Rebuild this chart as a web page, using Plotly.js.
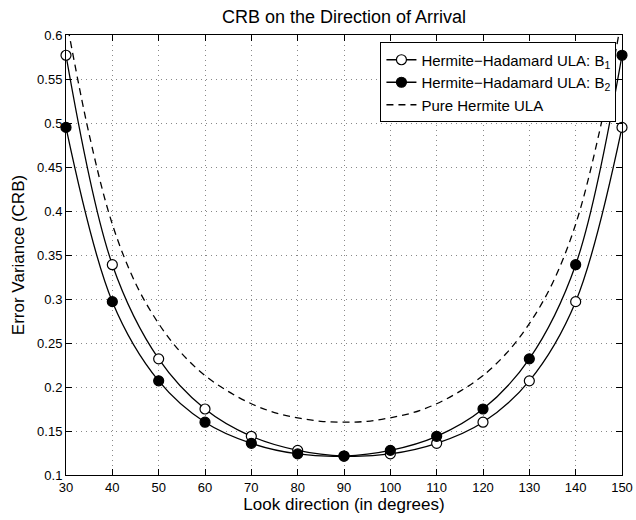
<!DOCTYPE html>
<html>
<head>
<meta charset="utf-8">
<script src="https://cdn.plot.ly/plotly-3.0.1.min.js"></script>
<style>html,body{margin:0;padding:0;background:#fff;}#chart{width:636px;height:520px;}</style>
</head>
<body>
<div id="chart"></div>
<script>
// Look directions (degrees) for the marked series
const lookDir = [30, 40, 50, 60, 70, 80, 90, 100, 110, 120, 130, 140, 150];
// Hermite-Hadamard ULA: B1 (open circles)
const crbB1 = [0.577, 0.339, 0.232, 0.175, 0.144, 0.128, 0.1215, 0.124, 0.136, 0.160, 0.207, 0.297, 0.495];
// Hermite-Hadamard ULA: B2 (filled circles)
const crbB2 = [0.495, 0.297, 0.207, 0.160, 0.136, 0.124, 0.1215, 0.128, 0.144, 0.175, 0.232, 0.339, 0.577];
// Pure Hermite ULA (dashed), read every 5 degrees
const pureDir = [30, 35, 40, 45, 50, 55, 60, 65, 70, 75, 80, 85, 90, 95, 100, 105, 110, 115, 120, 125, 130, 135, 140, 145, 150];
const crbPure = [0.62, 0.487, 0.385, 0.318, 0.272, 0.238, 0.213, 0.195, 0.181, 0.171, 0.165, 0.161, 0.160, 0.161, 0.165, 0.171, 0.181, 0.195, 0.213, 0.238, 0.272, 0.318, 0.385, 0.487, 0.62];

const xTicks = [30, 40, 50, 60, 70, 80, 90, 100, 110, 120, 130, 140, 150];
const yTicks = [0.1, 0.15, 0.2, 0.25, 0.3, 0.35, 0.4, 0.45, 0.5, 0.55, 0.6];

const FONT = 'Liberation Sans, Arial, Helvetica, sans-serif';

const traces = [
  {
    x: lookDir, y: crbB1, name: 'Hermite\u2212Hadamard ULA: B<sub>1</sub>',
    mode: 'lines+markers', type: 'scatter',
    line: {color: '#000', width: 1.3, shape: 'spline', smoothing: 1},
    marker: {symbol: 'circle', size: 10, color: '#fff', line: {color: '#000', width: 1.2}},
    cliponaxis: false
  },
  {
    x: lookDir, y: crbB2, name: 'Hermite\u2212Hadamard ULA: B<sub>2</sub>',
    mode: 'lines+markers', type: 'scatter',
    line: {color: '#000', width: 1.3, shape: 'spline', smoothing: 1},
    marker: {symbol: 'circle', size: 10, color: '#000', line: {color: '#000', width: 1.2}},
    cliponaxis: false
  },
  {
    x: pureDir, y: crbPure, name: 'Pure Hermite ULA',
    mode: 'lines', type: 'scatter',
    line: {color: '#000', width: 1.3, dash: '7px,5px', shape: 'spline', smoothing: 1},
    cliponaxis: true
  }
];

const axisCommon = {
  showline: true, linecolor: '#000', linewidth: 1, mirror: 'ticks',
  ticks: 'inside', ticklen: 6, tickcolor: '#000', tickwidth: 1,
  showgrid: true, gridcolor: '#888', griddash: '1px,4px', gridwidth: 1,
  zeroline: false,
  tickfont: {family: FONT, size: 13, color: '#000'}
};

const layout = {
  width: 636, height: 520,
  margin: {l: 66, r: 14, t: 35, b: 45},
  paper_bgcolor: '#fff', plot_bgcolor: '#fff',
  title: {text: 'CRB on the Direction of Arrival', font: {family: FONT, size: 18, color: '#000'},
          x: 344 / 636, xref: 'container', xanchor: 'center', y: 0.968, yref: 'container', yanchor: 'middle'},
  xaxis: Object.assign({}, axisCommon, {
    range: [30, 150], tickvals: xTicks, ticktext: xTicks.map(String),
    title: {text: 'Look direction (in degrees)', font: {family: FONT, size: 17, color: '#000'}, standoff: 1}
  }),
  yaxis: Object.assign({}, axisCommon, {
    range: [0.1, 0.6], tickvals: yTicks, ticktext: yTicks.map(v => String(v)),
    title: {text: 'Error Variance (CRB)', font: {family: FONT, size: 17, color: '#000'}, standoff: 8}
  }),
  showlegend: true,
  legend: {
    x: 0.990, xanchor: 'right', y: 0.983, yanchor: 'top',
    bgcolor: '#fff', bordercolor: '#000', borderwidth: 1,
    font: {family: FONT, size: 15, color: '#000'},
    tracegroupgap: 0, itemwidth: 30
  }
};

Plotly.newPlot('chart', traces, layout, {displayModeBar: false, staticPlot: true});
</script>
</body>
</html>
